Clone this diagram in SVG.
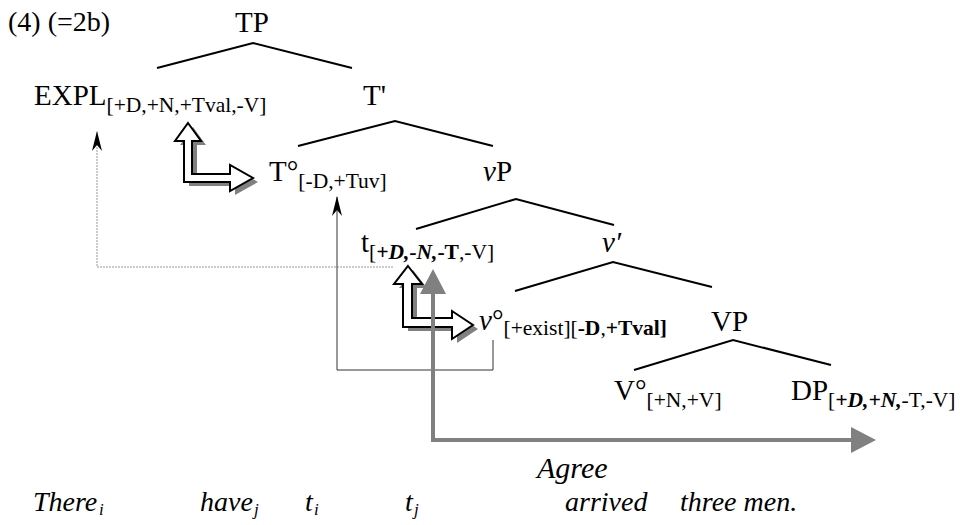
<svg xmlns="http://www.w3.org/2000/svg" width="960" height="525" viewBox="0 0 960 525">
<style>
text{font-family:"Liberation Serif","Times New Roman",serif;fill:#000}
.big{font-size:29px}
.sub{font-size:21.5px}
.b{font-weight:bold}
.bi{font-weight:bold;font-style:italic}
.i{font-style:italic}
.br{fill:none;stroke:#000;stroke-width:2}
.sent{font-size:28px;font-style:italic}
.idx{font-size:17px;font-style:italic}
</style>
<defs>
<marker id="dart" markerUnits="userSpaceOnUse" viewBox="0 0 20 10" refX="19" refY="5" markerWidth="20" markerHeight="10" orient="auto"><path d="M0,0 L20,5 L0,10 L6,5 z" fill="#000"/></marker>
<marker id="tri" markerUnits="userSpaceOnUse" viewBox="0 0 25 26" refX="1" refY="13" markerWidth="25" markerHeight="26" orient="auto-start-reverse"><path d="M0,0 L25,13 L0,26 z" fill="#808080"/></marker>
</defs>
<rect width="960" height="525" fill="#fff"/>
<text x="8" y="31" style="font-size:28px">(4) (=2b)</text>
<g id="branches">
<polyline class="br" points="157,68 253,43 352,68"/>
<polyline class="br" points="298,146 395,121 493,146"/>
<polyline class="br" points="416,229 516,199 614,225"/>
<polyline class="br" points="515,291 613,262 712,287"/>
<polyline class="br" points="634,370 733,340 831,365"/>
</g>
<g id="n-TP"><text class="big" x="235" y="32">TP</text></g>
<g id="n-EXPL"><text class="big" x="34" y="105">EXPL<tspan class="sub" dy="7">[+D,+N,+Tval,-V]</tspan></text></g>
<g id="n-Tbar"><text class="big" x="363" y="105">T'</text></g>
<g id="n-T0"><text class="big" x="269" y="181">T°<tspan class="sub" dy="7">[-D,+Tuv]</tspan></text></g>
<g id="n-vP"><text class="big" x="483" y="181"><tspan class="i">v</tspan>P</text></g>
<g id="n-t"><text class="big" x="361" y="252">t<tspan class="sub" dy="7">[<tspan class="bi">+D,-N,</tspan><tspan class="b">-T</tspan>,-V]</tspan></text></g>
<g id="n-vbar"><text class="big i" x="602" y="252">v′</text></g>
<g id="n-v0"><text class="big" x="479" y="330"><tspan class="i">v</tspan>°<tspan class="sub" dy="5">[+exist][<tspan class="b">-D</tspan>,<tspan class="b">+Tval]</tspan></tspan></text></g>
<g id="n-VP"><text class="big" x="711" y="331">VP</text></g>
<g id="n-V0"><text class="big" x="614" y="400">V°<tspan class="sub" dy="7">[+N,+V]</tspan></text></g>
<g id="n-DP"><text class="big" x="791" y="400">DP<tspan class="sub" dy="7">[<tspan class="bi">+D,+N,</tspan>-T,-V]</tspan></text></g>
<g id="connectors">
<path d="M393,267 H97 V132" fill="none" stroke="#999" stroke-width="1" stroke-dasharray="2,1" marker-end="url(#dart)"/>
<path d="M493,340 V370 H337 V197" fill="none" stroke="#333" stroke-width="1" marker-end="url(#dart)"/>
<g id="move1">
<polygon transform="translate(5,4)" points="188,123 201,141 192,141 192,174 230,174 230,165 253,178 230,191 230,182 184,182 184,141 175,141" fill="#808080"/>
<polygon points="188,123 201,141 192,141 192,174 230,174 230,165 253,178 230,191 230,182 184,182 184,141 175,141" fill="#fff" stroke="#000" stroke-width="2"/>
</g>
<g id="move2">
<polygon transform="translate(5,4)" points="408,266 422,284 412,284 412,318 452,318 452,311 473,325 452,339 452,327 403,327 403,284 394,284" fill="#808080"/>
<polygon points="408,266 422,284 412,284 412,318 452,318 452,311 473,325 452,339 452,327 403,327 403,284 394,284" fill="#fff" stroke="#000" stroke-width="2"/>
</g>
<path id="agree" d="M433,293 V440 H852" fill="none" stroke="#808080" stroke-width="4" marker-start="url(#tri)" marker-end="url(#tri)"/>
</g>
<g id="labels">
<text class="sent" x="537" y="478" style="font-size:30px">Agree</text>
<text class="sent" x="33" y="511">There</text>
<text class="idx" x="99" y="515">i</text>
<text class="sent" x="200" y="511">have</text>
<text class="idx" x="254" y="515">j</text>
<text class="sent" x="305" y="511">t</text>
<text class="idx" x="314" y="515">i</text>
<text class="sent" x="405" y="511">t</text>
<text class="idx" x="414" y="515">j</text>
<text class="sent" x="565" y="511">arrived</text>
<text class="sent" x="680" y="511">three men.</text>
</g>
</svg>
